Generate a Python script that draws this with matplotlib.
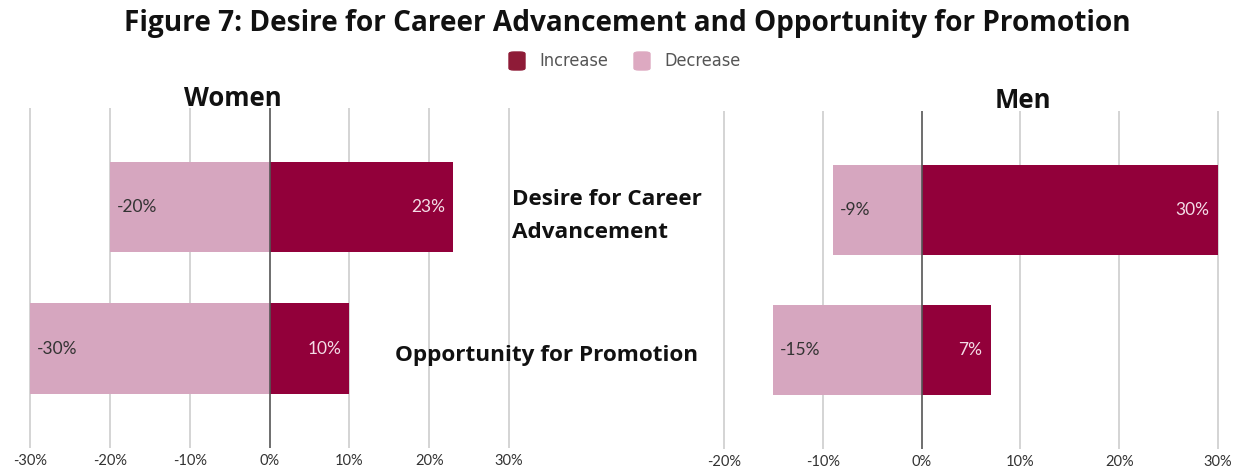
import matplotlib
matplotlib.use("Agg")
import matplotlib.pyplot as plt
from matplotlib.patches import FancyBboxPatch

# Survey results: share reporting an increase / decrease (percent)
categories = ["Desire for Career\nAdvancement", "Opportunity for Promotion"]
women_increase = [23, 10]
women_decrease = [-20, -30]
men_increase = [30, 7]
men_decrease = [-9, -15]
women_ticks = [-30, -20, -10, 0, 10, 20, 30]
men_ticks = [-20, -10, 0, 10, 20, 30]

INC = "#92003A"
DEC = "#D6A6BF"
GRID = "#D4D4D4"

fig = plt.figure(figsize=(12.4, 4.69), dpi=100)
W, H = 1240, 469


def px_axes(x0, x1, y0, y1):
    return fig.add_axes([x0 / W, 1 - y1 / H, (x1 - x0) / W, (y1 - y0) / H])


def panel(ax, inc, dec, ticks, xlim):
    ypos = list(range(len(inc)))
    ax.barh(ypos, dec, height=0.64, color=DEC, zorder=2)
    ax.barh(ypos, inc, height=0.64, color=INC, zorder=2)
    ax.set_xlim(*xlim)
    ax.set_ylim(1.7, -0.7)
    ax.set_xticks(ticks)
    ax.set_xticklabels([f"{t}%" for t in ticks], family="Lato", fontsize=10.5, color="#333333")
    ax.tick_params(axis="x", length=0, pad=4)
    ax.set_yticks([])
    for s in ax.spines.values():
        s.set_visible(False)
    for t in ticks:
        if t == 0:
            ax.axvline(0, color="#555555", lw=1.2, zorder=3)
        else:
            ax.axvline(t, color=GRID, lw=1.4, zorder=1)
    for y, v in zip(ypos, dec):
        ax.annotate(f"{v}%", (v, y), xytext=(5, 0), textcoords="offset points",
                    ha="left", va="center", family="Lato", fontsize=12.5, color="#333333", zorder=4)
    for y, v in zip(ypos, inc):
        ax.annotate(f"{v}%", (v, y), xytext=(-6, 0), textcoords="offset points",
                    ha="right", va="center", family="Lato", fontsize=12.5, color="#F3DCE6", zorder=4)


# Women: -30..30 spans x=30..509 px ; Men: -20..30 spans x=724..1218 px
ax_w = px_axes(30 - 8, 509 + 8, 108, 448)
panel(ax_w, women_increase, women_decrease, women_ticks, (-31, 31))
ax_m = px_axes(724 - 9.9, 1218 + 9.9, 111, 449)
panel(ax_m, men_increase, men_decrease, men_ticks, (-21, 31))

fig.text(627 / W, 1 - 23 / H, "Figure 7: Desire for Career Advancement and Opportunity for Promotion",
         ha="center", va="center", family="Open Sans", fontweight="bold", fontsize=20.2, color="#111111")
fig.text(233 / W, 1 - 99 / H, "Women", ha="center", va="center",
         family="Open Sans", fontweight="bold", fontsize=18.5, color="#111111")
fig.text(1023 / W, 1 - 101 / H, "Men", ha="center", va="center",
         family="Open Sans", fontweight="bold", fontsize=18.5, color="#111111")

fig.text(512 / W, 1 - 216 / H, categories[0], ha="left", va="center",
         family="Open Sans", fontweight="bold", fontsize=16.2, color="#111111", linespacing=1.75)
fig.text(547 / W, 1 - 355 / H, categories[1], ha="center", va="center",
         family="Open Sans", fontweight="bold", fontsize=16.2, color="#111111")

# Legend
leg_items = [("Increase", "#8E1B37", 509), ("Decrease", "#DDA9C1", 634)]
for label, col, x in leg_items:
    box = FancyBboxPatch((x / W, 1 - 70 / H), 16 / W, 18 / H,
                         boxstyle="round,pad=0,rounding_size=0.004",
                         transform=fig.transFigure, color=col)
    fig.patches.append(box)
    fig.text((x + 30) / W, 1 - 61 / H, label, ha="left", va="center",
             family="DejaVu Sans", fontsize=13, color="#555555", fontstretch="condensed")

fig.savefig("out.png", dpi=100)
